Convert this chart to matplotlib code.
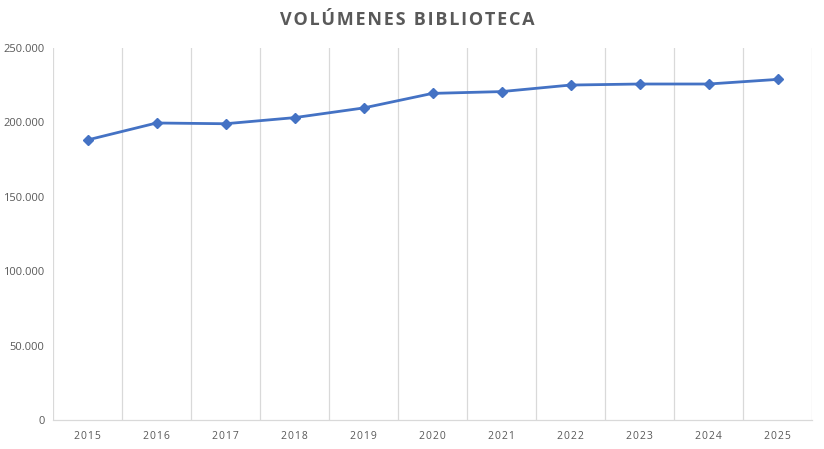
import matplotlib.pyplot as plt
from matplotlib.ticker import FuncFormatter, FixedLocator

years = ["2015", "2016", "2017", "2018", "2019", "2020",
         "2021", "2022", "2023", "2024", "2025"]
volumes = [188200, 199600, 199100, 203200, 209700, 219500,
           220700, 225100, 225800, 225800, 228900]

BLUE = "#4472C4"
GREY_TXT = "#595959"
GRID = "#D9D9D9"

plt.rcParams['font.family'] = ['Open Sans', 'DejaVu Sans']

fig = plt.figure(figsize=(8.24, 4.49), dpi=100)
ax = fig.add_axes([53/824, 1 - 420/449, (812 - 53)/824, (420 - 48)/449])

x = range(len(years))
ax.plot(x, volumes, color=BLUE, lw=2.0, marker='D', ms=5.5, zorder=3)

ax.set_xlim(-0.5, len(years) - 0.5)
ax.set_ylim(0, 250000)
ax.set_yticks(range(0, 250001, 50000))
ax.yaxis.set_major_formatter(FuncFormatter(lambda v, p: f"{int(v):,}".replace(",", ".")))

ax.set_xticks(list(x))
ax.set_xticklabels(["\u200a".join(y) for y in years])
ax.xaxis.set_minor_locator(FixedLocator([i - 0.5 for i in range(len(years) + 1)]))
ax.grid(True, which='minor', axis='x', color=GRID, lw=0.9)
ax.grid(False, which='major')

for s in ['top', 'right', 'left']:
    ax.spines[s].set_visible(False)
ax.spines['bottom'].set_color(GRID)
ax.spines['bottom'].set_linewidth(0.9)

ax.tick_params(axis='both', which='both', length=0, colors=GREY_TXT)
ax.tick_params(axis='y', labelsize=8, pad=6)
ax.tick_params(axis='x', labelsize=7.5, pad=8)

fig.text(0.494, 1 - 20/449, "\u200a".join("VOLÚMENES BIBLIOTECA"),
         ha='center', va='center', fontsize=13, fontweight='bold', color=GREY_TXT)

fig.savefig("out.png", dpi=100)
